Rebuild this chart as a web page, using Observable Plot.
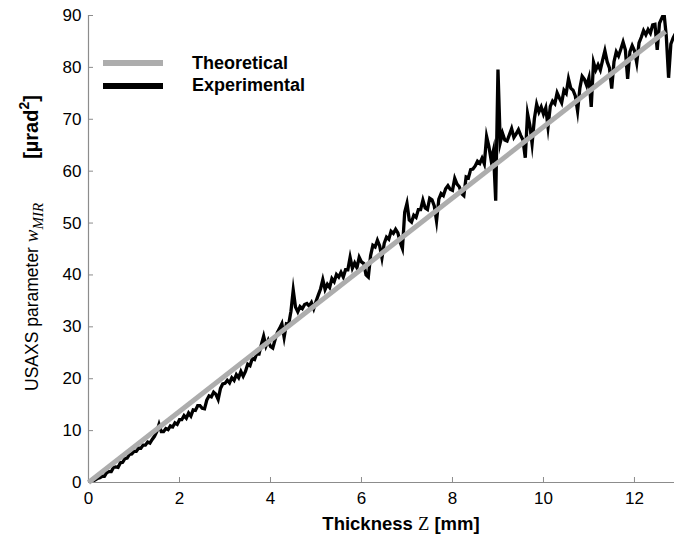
<!DOCTYPE html>
<html>
<head>
<meta charset="utf-8">
<script src="https://cdn.jsdelivr.net/npm/d3@7"></script>
<script src="https://cdn.jsdelivr.net/npm/@observablehq/plot@0.6"></script>
<style>
  body { margin: 0; background: #fff; }
  #wrap { position: relative; width: 674px; height: 539px; font-family: "Liberation Sans", Arial, sans-serif; }
  .legend { position: absolute; left: 103px; top: 52px; font-weight: bold; font-size: 18px; }
  .legend .row { display: flex; align-items: center; height: 22.5px; }
  .legend .sw { width: 60px; height: 6px; margin-right: 29px; }
</style>
</head>
<body>
<div id="wrap"></div>
<script>
// Thickness Z grid step (mm) of the experimental series
const zStep = 0.05;
// Experimental USAXS parameter w_MIR [µrad^2], one value per zStep starting at Z = 0
const experimental = [
  0.0, 0.1, 0.3, 0.5, 0.8, 0.9, 1.2, 1.2, 1.9, 2.1,
  2.1, 2.9, 3.0, 2.9, 3.8, 3.9, 4.6, 4.7, 5.4, 5.5,
  6.0, 6.0, 6.6, 6.6, 7.2, 7.2, 7.8, 7.6, 8.3, 8.9,
  9.8, 11.2, 9.8, 9.8, 10.4, 10.2, 10.9, 10.7, 11.5, 11.2,
  12.1, 12.1, 12.9, 12.4, 13.4, 12.8, 14.0, 13.9, 14.8, 14.8,
  14.3, 14.2, 15.9, 16.7, 16.5, 17.4, 17.0, 16.0, 18.1, 19.0,
  19.1, 19.7, 19.2, 20.2, 19.7, 20.8, 20.2, 21.4, 20.5, 21.4,
  22.8, 22.5, 23.9, 23.7, 24.9, 24.8, 26.6, 28.2, 26.3, 27.4,
  26.2, 25.9, 27.5, 28.9, 29.7, 30.6, 28.0, 30.6, 30.5, 33.0,
  37.1, 33.8, 32.9, 33.9, 33.5, 34.3, 34.5, 34.0, 34.7, 33.5,
  34.9, 36.1, 37.3, 39.1, 37.2, 38.2, 37.6, 39.3, 38.7, 40.1,
  39.6, 40.5, 39.6, 41.0, 41.0, 43.4, 41.3, 42.3, 41.4, 43.4,
  42.5, 42.2, 40.0, 39.6, 43.7, 45.7, 45.4, 46.7, 45.6, 43.3,
  46.1, 47.3, 46.9, 48.4, 48.0, 48.8, 48.1, 46.3, 45.1, 52.1,
  53.8, 50.6, 50.2, 51.5, 51.1, 52.6, 52.6, 54.4, 52.9, 52.6,
  54.8, 54.5, 53.3, 50.4, 54.6, 55.7, 55.3, 56.6, 57.2, 56.5,
  56.3, 58.6, 57.5, 57.0, 55.7, 55.3, 58.9, 58.7, 60.3, 60.4,
  61.0, 61.9, 61.5, 62.5, 61.4, 66.7, 64.8, 62.1, 64.0, 54.3,
  79.6, 65.5, 67.3, 66.0, 65.8, 67.0, 68.2, 66.5, 67.2, 68.0,
  66.9, 66.0, 62.6, 71.1, 68.9, 65.3, 70.1, 72.9, 71.4, 72.4,
  71.0, 72.2, 68.5, 72.5, 73.5, 73.0, 75.1, 74.1, 73.2, 75.6,
  75.0, 77.8, 76.0, 75.6, 74.5, 71.6, 76.0, 78.3, 77.7, 76.5,
  78.0, 72.4, 81.0, 79.5, 80.5, 79.5, 81.4, 83.2, 81.1, 79.9,
  75.9, 81.1, 83.0, 82.2, 83.5, 84.9, 83.4, 77.8, 83.0, 84.2,
  83.2, 80.9, 84.7, 85.8, 87.1, 86.3, 87.3, 86.6, 88.2, 88.3,
  83.4, 88.5, 89.5, 90.4, 86.0, 78.0, 84.5, 85.7, 86.5
];
// Theoretical straight line (endpoints)
const theoryZ = [0, 12.68];
const theoryW = [0, 86.9];
// Tick labels
const xTicks = [0, 2, 4, 6, 8, 10, 12];
const yTicks = [0, 10, 20, 30, 40, 50, 60, 70, 80, 90];
// Legend labels
const seriesNames = ["Theoretical", "Experimental"];
const seriesColors = ["#adadad", "#000000"];

const expData = experimental.map((w, i) => ({z: i * zStep, w}));
const theoData = theoryZ.map((z, i) => ({z, w: theoryW[i]}));

const axisGray = "#8c8c8c";
const chart = Plot.plot({
  width: 674,
  height: 539,
  marginLeft: 88,
  marginRight: 0,
  marginTop: 15,
  marginBottom: 57,
  style: {fontFamily: "Liberation Sans, Arial, sans-serif", fontSize: "17px", background: "#fff", overflow: "visible"},
  x: {domain: [0, 12.88]},
  y: {domain: [0, 90]},
  marks: [
    Plot.ruleY([0], {stroke: axisGray, strokeWidth: 1.2}),
    Plot.ruleX([0], {stroke: axisGray, strokeWidth: 1.2}),
    Plot.axisX(xTicks, {tickSize: -5, tickPadding: 14, stroke: axisGray, fill: "#000", label: null, fontSize: 17}),
    Plot.axisY(yTicks, {tickSize: -5, tickPadding: 12, stroke: axisGray, fill: "#000", label: null, fontSize: 17}),
    Plot.line(expData, {x: "z", y: "w", stroke: seriesColors[1], strokeWidth: 3.3, strokeLinejoin: "miter", strokeMiterlimit: 10, clip: true}),
    Plot.line(theoData, {x: "z", y: "w", stroke: seriesColors[0], strokeWidth: 5, strokeLinecap: "butt"})
  ]
});

const wrap = document.getElementById("wrap");
wrap.appendChild(chart);

const svg = d3.select(chart);
const serif = "Liberation Serif, Times New Roman, serif";
// X axis label
const xl = svg.append("text")
  .attr("x", 401).attr("y", 530)
  .attr("text-anchor", "middle")
  .attr("font-size", 18.5).attr("fill", "#000");
xl.append("tspan").attr("font-weight", "bold").text("Thickness ");
xl.append("tspan").attr("font-family", serif).text("Z");
xl.append("tspan").attr("font-weight", "bold").text(" [mm]");

// Y axis label (reads bottom to top)
const yl = svg.append("text")
  .attr("transform", "translate(38,391) rotate(-90)")
  .attr("text-anchor", "start")
  .attr("font-size", 17.5).attr("fill", "#000");
yl.append("tspan").text("USAXS parameter ");
yl.append("tspan").attr("font-family", serif).attr("font-style", "italic").attr("font-size", 19).text("w");
yl.append("tspan").attr("font-family", serif).attr("font-style", "italic").attr("font-size", 15).attr("dy", 5).text("MIR");
yl.append("tspan").attr("font-weight", "bold").attr("font-size", 20).attr("dy", -5).attr("dx", 44).text("[µrad");
yl.append("tspan").attr("font-weight", "bold").attr("font-size", 14).attr("dy", -9).text("2");
yl.append("tspan").attr("font-weight", "bold").attr("font-size", 20).attr("dy", 9).text("]");

// Legend
const legend = document.createElement("div");
legend.className = "legend";
seriesNames.forEach((name, i) => {
  const row = document.createElement("div");
  row.className = "row";
  const sw = document.createElement("span");
  sw.className = "sw";
  sw.style.background = seriesColors[i];
  const t = document.createElement("span");
  t.textContent = name;
  row.appendChild(sw);
  row.appendChild(t);
  legend.appendChild(row);
});
wrap.appendChild(legend);
</script>
</body>
</html>
